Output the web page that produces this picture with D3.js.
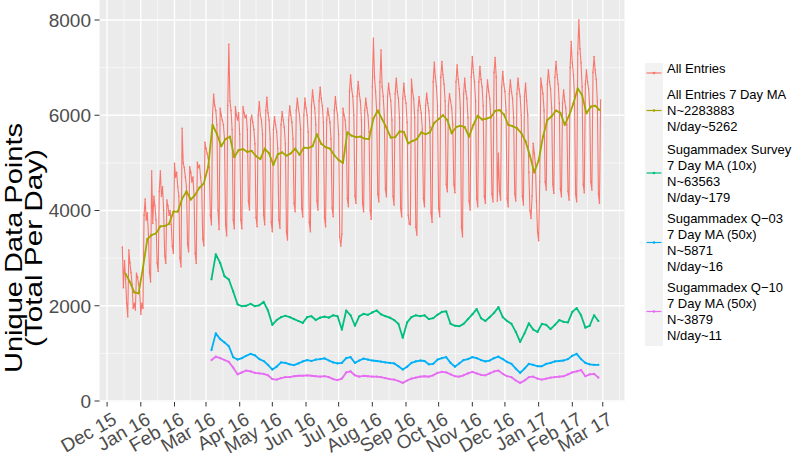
<!DOCTYPE html>
<html lang="en">
<head>
<meta charset="utf-8">
<title>Unique Data Points per Day</title>
<script src="https://cdn.jsdelivr.net/npm/d3@7"></script>
<style>
  body { margin: 0; background: #ffffff; }
  text { font-family: "Liberation Sans", Arial, Helvetica, sans-serif; }
</style>
</head>
<body>
<script>
// All entries, daily totals. One row per week (Mon..Sun), first row starts Tue 15 Dec 2015
const allEntriesStart = "2015-12-15";
const allEntries = [
  [3230, 2380, 2950, 2560, 2050, 1770],
  [3170, 2900, 2700, 2450, 1950, 2050, 1910],
  [2680, 2600, 2450, 2300, 1820, 2050, 1950],
  [3900, 4240, 3800, 3950, 3500, 2700, 2500],
  [4830, 3730, 4300, 4100, 3800, 2900, 2720],
  [4400, 4830, 4300, 4500, 4000, 3050, 2890],
  [4220, 4100, 3900, 4000, 3700, 3250, 3100],
  [4990, 4700, 4800, 4500, 4300, 3000, 2820],
  [5725, 5000, 4900, 4700, 4500, 3300, 3135],
  [4920, 4800, 4600, 4700, 4300, 3100, 2890],
  [5010, 4900, 4950, 4700, 4500, 3400, 3260],
  [5430, 5300, 5200, 5100, 4900, 3900, 3700],
  [6000, 6440, 6200, 6100, 5800, 4000, 3600],
  [6145, 6000, 5900, 5800, 5500, 3700, 3470],
  [6200, 7490, 6300, 6100, 5700, 3800, 3620],
  [6180, 6000, 5900, 6050, 5600, 3800, 3620],
  [6180, 6050, 5950, 6000, 5700, 4200, 4010],
  [5900, 6000, 5850, 5700, 5400, 3850, 3660],
  [6000, 6285, 6000, 5900, 5600, 3900, 3700],
  [6100, 6375, 6050, 5900, 5500, 3750, 3555],
  [5700, 5970, 5800, 5650, 5300, 3800, 3630],
  [5800, 6075, 5900, 5750, 5400, 3550, 3380],
  [5900, 6195, 6000, 5850, 5500, 4150, 3975],
  [6100, 6355, 6150, 6000, 5700, 4050, 3870],
  [6000, 6355, 6150, 6000, 5650, 3750, 3555],
  [6200, 6530, 6300, 6150, 5800, 4200, 4010],
  [6300, 6585, 6350, 6200, 5850, 3850, 3660],
  [5900, 6145, 6000, 5850, 5500, 4050, 3870],
  [6100, 6390, 6150, 6000, 5600, 3450, 3255],
  [3500, 6145, 6000, 5900, 5600, 4250, 4080],
  [6500, 6845, 6550, 6400, 6000, 4300, 4150],
  [6400, 6705, 6450, 6300, 5900, 4150, 3975],
  [6100, 6355, 6150, 6000, 5650, 4000, 3815],
  [6600, 7615, 6800, 6500, 6100, 4350, 4185],
  [6700, 7370, 6600, 6400, 6000, 4450, 4290],
  [6400, 6670, 6450, 6300, 5900, 4300, 4115],
  [6450, 6775, 6500, 6350, 5950, 4050, 3870],
  [6350, 6670, 6400, 6250, 5850, 3900, 3715],
  [3700, 6755, 6500, 6350, 5950, 3650, 3485],
  [6100, 6390, 6200, 6050, 5700, 4250, 4080],
  [6200, 6460, 6250, 6100, 5750, 3950, 3755],
  [6700, 7110, 6800, 6600, 6200, 4050, 3870],
  [6800, 7125, 6850, 6650, 6300, 4550, 4395],
  [6200, 6450, 6300, 6150, 5800, 4550, 4375],
  [6700, 7055, 6750, 6550, 6150, 3650, 3450],
  [6450, 6775, 6500, 6350, 5950, 4200, 4010],
  [6800, 7230, 6900, 6700, 6300, 4250, 4080],
  [6700, 7020, 6750, 6600, 6200, 4300, 4150],
  [6400, 6740, 6500, 6350, 5950, 4350, 4185],
  [6900, 7210, 6800, 4200, 5200, 4400, 4220],
  [6600, 6915, 6650, 6500, 6100, 4250, 4080],
  [6450, 6740, 6500, 6350, 5950, 4350, 4200],
  [6450, 6775, 6550, 6400, 6000, 4300, 4115],
  [6400, 6670, 6300, 6000, 4800, 4000, 3835],
  [4300, 5410, 5200, 5000, 4200, 3550, 3365],
  [4600, 6775, 6600, 6450, 6100, 4600, 4430],
  [6650, 6950, 6700, 6550, 6150, 4550, 4360],
  [6800, 7125, 6850, 6650, 6250, 4450, 4290],
  [6250, 6530, 6300, 6150, 5800, 4400, 4220],
  [7000, 7545, 7100, 6850, 6400, 4350, 4185],
  [7300, 8000, 7400, 7100, 6600, 4550, 4375],
  [6650, 6950, 6700, 6550, 6150, 4600, 4430],
  [6900, 7230, 6950, 6750, 6300, 4350, 4150],
  [6320]
];

// All entries 7 day moving average, read every 4 days from 18 Dec 2015
const allEntriesMAStart = "2015-12-18";
const allEntriesMA = [
  2670, 2500, 2280, 2260, 2800, 3400, 3485, 3520, 3665, 3675,
  3720, 3975, 3975, 4250, 4400, 4230, 4330, 4480, 4570, 4920,
  5795, 5610, 5350, 5500, 5550, 5120, 5270, 5290, 5230, 5250,
  5140, 5080, 5300, 5200, 4955, 5180, 5220, 5150, 5200, 5300,
  5170, 5320, 5310, 5350, 5600, 5400, 5330, 5300, 5160, 5060,
  5000, 5640, 5570, 5540, 5550, 5510, 5500, 5930, 6100, 5920,
  5740, 5530, 5540, 5660, 5650, 5410, 5460, 5500, 5640, 5600,
  5640, 5840, 5920, 6000, 5900, 5620, 5750, 5780, 5750, 5550,
  5800, 5990, 5910, 5930, 5960, 6090, 6110, 6020, 5800, 5770,
  5730, 5630, 5450, 5150, 4800, 5050, 5550, 5900, 5980, 6100,
  6050, 5800, 5990, 6250, 6560, 6420, 6040, 6180, 6200, 6110
];

// Sugammadex series (already scaled 10x / 50x), read every 4 days from 6 Mar 2016
const sugStart = "2016-03-06";
const surveyMA = [
  2555, 3080, 2900, 2620, 2550, 2300, 2030, 1990, 2000, 2040,
  1990, 2010, 2080, 1900, 1600, 1700, 1760, 1790, 1760, 1720,
  1680, 1640, 1760, 1780, 1700, 1750, 1770, 1750, 1800, 1780,
  1500, 1900, 1800, 1580, 1780, 1830, 1810, 1860, 1900, 1820,
  1780, 1750, 1700, 1620, 1330, 1650, 1760, 1800, 1780, 1800,
  1720, 1740, 1810, 1870, 1880, 1620, 1580, 1570, 1620, 1720,
  1820, 1930, 1740, 1680, 1760, 1850, 1970, 1760, 1680, 1620,
  1450, 1240, 1420, 1630, 1500, 1450, 1620, 1600, 1510, 1600,
  1700, 1660, 1650, 1870, 1950, 1800, 1540, 1580, 1800, 1680
];
const q03MA = [
  1070, 1420, 1300, 1230, 1150, 920, 870, 900, 950, 990,
  960, 880, 840, 760, 660, 720, 810, 800, 770, 755,
  790, 830, 860, 840, 870, 880, 895, 850, 810, 790,
  800, 900, 920, 800, 850, 890, 870, 850, 840, 825,
  810, 800, 790, 730, 660, 720, 800, 830, 850, 840,
  770, 780, 870, 900, 920, 800, 720, 790, 860, 880,
  920, 900, 860, 830, 850, 900, 930, 880, 820, 780,
  680, 590, 680, 780, 760, 730, 730, 780, 800, 830,
  840, 850, 880, 950, 990, 880, 800, 770, 760, 760
];
const q10MA = [
  860, 930, 900, 860, 820, 700, 560, 600, 640, 620,
  590, 580, 570, 540, 460, 450, 480, 500, 500, 520,
  530, 530, 540, 530, 520, 510, 520, 500, 460, 440,
  470, 600, 620, 540, 510, 530, 520, 510, 510, 500,
  480, 460, 450, 420, 380, 430, 470, 490, 510, 520,
  510, 540, 590, 610, 600, 560, 520, 510, 540, 580,
  610, 580, 550, 540, 580, 620, 640, 570, 520, 500,
  430, 380, 430, 500, 510, 470, 450, 470, 490, 500,
  510, 520, 560, 600, 620, 650, 520, 560, 570, 490
];
const sampleStep = 4;

const yTicks = [0, 2000, 4000, 6000, 8000];
const yMinor = [1000, 3000, 5000, 7000];
const yTitle = ["Unique Data Points", "(Total Per Day)"];
const legendLabels = [
  ["All Entries"],
  ["All Entries 7 Day MA", "N~2283883", "N/day~5262"],
  ["Sugammadex Survey", "7 Day MA (10x)", "N~63563", "N/day~179"],
  ["Sugammadex Q\u221203", "7 Day MA (50x)", "N~5871", "N/day~16"],
  ["Sugammadex Q\u221210", "7 Day MA (50x)", "N~3879", "N/day~11"]
];
const colors = ["#F8766D", "#A3A500", "#00BF7D", "#00B0F6", "#E76BF3"];

const W = 798, H = 455;
const panel = {left: 99.5, right: 624.5, top: 0, bottom: 402};

const parseDay = d3.timeParse("%Y-%m-%d");
function daily(start, values) {
  const s = parseDay(start);
  return values.map((v, i) => ({date: d3.timeDay.offset(s, i), value: v}));
}
function sampled(start, values) {
  const s = parseDay(start);
  return values.map((v, i) => ({date: d3.timeDay.offset(s, i * sampleStep), value: v}));
}

const series = [
  daily(allEntriesStart, allEntries.flat()),
  sampled(allEntriesMAStart, allEntriesMA),
  sampled(sugStart, surveyMA),
  sampled(sugStart, q03MA),
  sampled(sugStart, q10MA)
];

const svg = d3.select("body").append("svg")
  .attr("width", W).attr("height", H)
  .style("background-color", "#FFFFFF");

const x = d3.scaleTime()
  .domain([new Date(2015, 10, 24), new Date(2017, 2, 21)])
  .range([panel.left, panel.right]);
const y = d3.scaleLinear()
  .domain([0, 8000])
  .range([401, 20]);

// panel
svg.append("rect")
  .attr("x", panel.left).attr("y", panel.top)
  .attr("width", panel.right - panel.left)
  .attr("height", panel.bottom - panel.top)
  .attr("fill", "#EBEBEB");

const months = d3.timeMonth.range(new Date(2015, 11, 1), new Date(2017, 2, 2));
const midMonths = months.slice(0, -1).map((d, i) => new Date((+d + +months[i + 1]) / 2));
midMonths.unshift(new Date(+months[0] - (+months[1] - +months[0]) / 2));
midMonths.push(new Date(+months[months.length - 1] + (+months[1] - +months[0]) / 2));

const grid = svg.append("g");
grid.selectAll(".ymin").data(yMinor).join("line")
  .attr("x1", panel.left).attr("x2", panel.right)
  .attr("y1", d => y(d)).attr("y2", d => y(d))
  .attr("stroke", "#FFFFFF").attr("stroke-width", 0.6);
grid.selectAll(".xmin").data(midMonths.filter(d => x(d) > panel.left && x(d) < panel.right)).join("line")
  .attr("x1", d => x(d)).attr("x2", d => x(d))
  .attr("y1", panel.top).attr("y2", panel.bottom)
  .attr("stroke", "#FFFFFF").attr("stroke-width", 0.6);
grid.selectAll(".ymaj").data(yTicks).join("line")
  .attr("x1", panel.left).attr("x2", panel.right)
  .attr("y1", d => y(d)).attr("y2", d => y(d))
  .attr("stroke", "#FFFFFF").attr("stroke-width", 1.3);
grid.selectAll(".xmaj").data(months).join("line")
  .attr("x1", d => x(d)).attr("x2", d => x(d))
  .attr("y1", panel.top).attr("y2", panel.bottom)
  .attr("stroke", "#FFFFFF").attr("stroke-width", 1.3);

// lines
const line = d3.line().x(d => x(d.date)).y(d => y(d.value));
series.forEach((s, i) => {
  svg.append("path")
    .datum(s)
    .attr("d", line)
    .attr("fill", "none")
    .attr("stroke", colors[i])
    .attr("stroke-width", i === 0 ? 1.1 : 1.8)
    .attr("stroke-linejoin", "round");
  svg.append("g").selectAll("circle")
    .data(s).join("circle")
    .attr("cx", d => x(d.date)).attr("cy", d => y(d.value))
    .attr("r", i === 0 ? 0.8 : 1.1)
    .attr("fill", colors[i]);
});

// y axis
const yAxis = svg.append("g");
yAxis.selectAll("line").data(yTicks).join("line")
  .attr("x1", 94.5).attr("x2", panel.left)
  .attr("y1", d => y(d)).attr("y2", d => y(d))
  .attr("stroke", "#333333").attr("stroke-width", 1);
yAxis.selectAll("text").data(yTicks).join("text")
  .attr("x", 91).attr("y", d => y(d))
  .attr("dy", "0.36em")
  .attr("text-anchor", "end")
  .attr("font-size", "19px")
  .attr("fill", "#4D4D4D")
  .text(d => d);

// x axis
const fmt = d3.timeFormat("%b %y");
const xAxis = svg.append("g");
xAxis.selectAll("line").data(months).join("line")
  .attr("x1", d => x(d)).attr("x2", d => x(d))
  .attr("y1", panel.bottom).attr("y2", panel.bottom + 4.5)
  .attr("stroke", "#333333").attr("stroke-width", 1);
xAxis.selectAll("text").data(months).join("text")
  .attr("transform", d => `translate(${x(d) + 4},${411}) rotate(-30)`)
  .attr("dy", "0.72em")
  .attr("text-anchor", "end")
  .attr("font-size", "19px")
  .attr("fill", "#4D4D4D")
  .text(d => fmt(d));

// y title (two lines, rotated)
const titleLengths = [250, 198];
svg.append("g").selectAll("text")
  .data(yTitle).join("text")
  .attr("transform", (d, i) => `translate(${i === 0 ? 21.5 : 42},248) rotate(-90)`)
  .attr("text-anchor", "middle")
  .attr("font-size", "24px")
  .attr("fill", "#000000")
  .attr("textLength", (d, i) => titleLengths[i])
  .attr("lengthAdjust", "spacingAndGlyphs")
  .text(d => d);

// legend
const keyTops = [63, 83, 138, 208, 277];
const keyHeights = [20, 55, 70, 69, 69];
const legend = svg.append("g");
legendLabels.forEach((lines, i) => {
  const top = keyTops[i], h = keyHeights[i];
  const cy = top + h / 2;
  legend.append("rect")
    .attr("x", 645).attr("y", top)
    .attr("width", 18).attr("height", h)
    .attr("fill", "#F2F2F2");
  legend.append("line")
    .attr("x1", 646.5).attr("x2", 661.5)
    .attr("y1", cy).attr("y2", cy)
    .attr("stroke", colors[i]).attr("stroke-width", 1.2);
  legend.append("circle")
    .attr("cx", 654).attr("cy", cy).attr("r", 1.3)
    .attr("fill", colors[i]);
  const textCenter = i === 0 ? cy - 5 : cy;
  const spacing = 16;
  legend.append("g").selectAll("text")
    .data(lines).join("text")
    .attr("x", 667)
    .attr("y", (d, j) => textCenter + (j - (lines.length - 1) / 2) * spacing)
    .attr("dy", "0.36em")
    .attr("font-size", "13px")
    .attr("fill", "#000000")
    .text(d => d);
});
</script>
</body>
</html>
